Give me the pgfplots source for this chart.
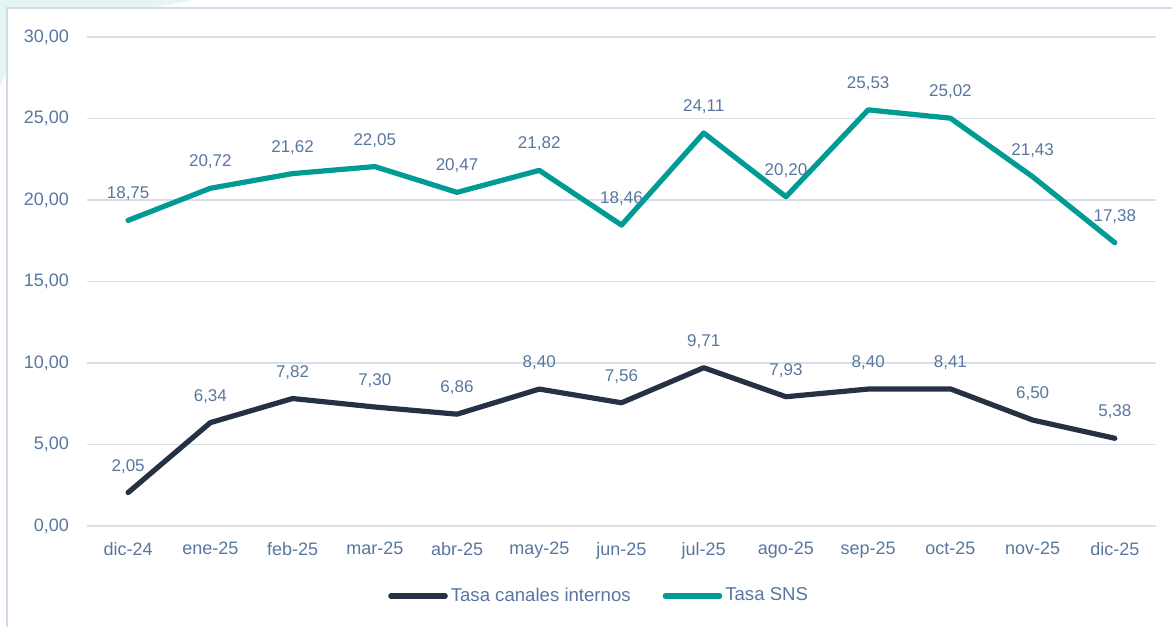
\documentclass[border=0pt]{standalone}
\usepackage{pgfplots}
\pgfplotsset{compat=1.18}
\usepackage{fontspec}
\setmainfont{Liberation Sans}
\definecolor{txt}{HTML}{5876A0}
\definecolor{gridc}{HTML}{D9DFE9}
\definecolor{navy}{HTML}{253243}
\definecolor{teal}{HTML}{009B95}
\definecolor{framec}{HTML}{D3DBEA}
\definecolor{mint}{HTML}{E5F6F2}
\begin{document}
\begin{tikzpicture}
\begin{axis}[
    scale only axis,
    width=534.5pt, height=244.5pt,
    xmin=-0.5, xmax=12.5,
    ymin=0, ymax=30,
    ytick={0,5,...,30},
    xtick={0,...,12},
    xticklabels={dic-24,ene-25,feb-25,mar-25,abr-25,may-25,jun-25,jul-25,ago-25,sep-25,oct-25,nov-25,dic-25},
    axis line style={draw=none},
    major tick style={draw=none},
    ymajorgrids=true,
    grid style={gridc, line width=0.9pt},
    tick label style={font=\fontsize{9}{11}\selectfont, text=txt},
    yticklabel style={xshift=-5.5pt},
    xticklabel style={yshift=-4.5pt},
    /pgf/number format/.cd, fixed, fixed zerofill, precision=2, use comma, assume math mode=true,
    /pgfplots/.cd,
    nodes near coords={\pgfmathprintnumber[fixed,fixed zerofill,precision=2,use comma,assume math mode=true]{\pgfplotspointmeta}},
    every node near coord/.append style={font=\fontsize{8.5}{10}\selectfont, text=txt, anchor=south, yshift=5pt},
    legend style={at={(0.48,-0.143)}, anchor=center, draw=none, fill=none,
        legend columns=2, font=\fontsize{9.3}{11}\selectfont, text=txt,
        /tikz/every even column/.append style={column sep=14pt},
        /tikz/every odd column/.append style={column sep=-0.5pt}},
    legend image code/.code={\draw[#1, line cap=round, line width=2.8pt] (0pt,0pt) -- (27pt,0pt);},
    clip=false,
]
\path[use as bounding box] (rel axis cs:-0.0814,-0.2065) rectangle (rel axis cs:1.0150,1.0757);
\fill[mint] (rel axis cs:-0.0814,1.0757) -- (rel axis cs:0.10,1.0757) -- (rel axis cs:0.06,1.0593) -- (rel axis cs:-0.0748,1.0593) -- (rel axis cs:-0.0748,0.93) -- (rel axis cs:-0.0814,0.90) -- cycle;
\draw[framec, line width=0.8pt] (rel axis cs:-0.0748,-0.2065) -- (rel axis cs:-0.0748,1.0593) -- (rel axis cs:1.0150,1.0593);
\addplot[navy, line width=2.6pt, line cap=round, line join=round] coordinates {
    (0,2.05) (1,6.34) (2,7.82) (3,7.30) (4,6.86) (5,8.40) (6,7.56)
    (7,9.71) (8,7.93) (9,8.40) (10,8.41) (11,6.50) (12,5.38)
};
\addplot[teal, line width=2.6pt, line cap=round, line join=round] coordinates {
    (0,18.75) (1,20.72) (2,21.62) (3,22.05) (4,20.47) (5,21.82) (6,18.46)
    (7,24.11) (8,20.20) (9,25.53) (10,25.02) (11,21.43) (12,17.38)
};
\legend{Tasa canales internos, Tasa SNS}
\end{axis}
\end{tikzpicture}
\end{document}
